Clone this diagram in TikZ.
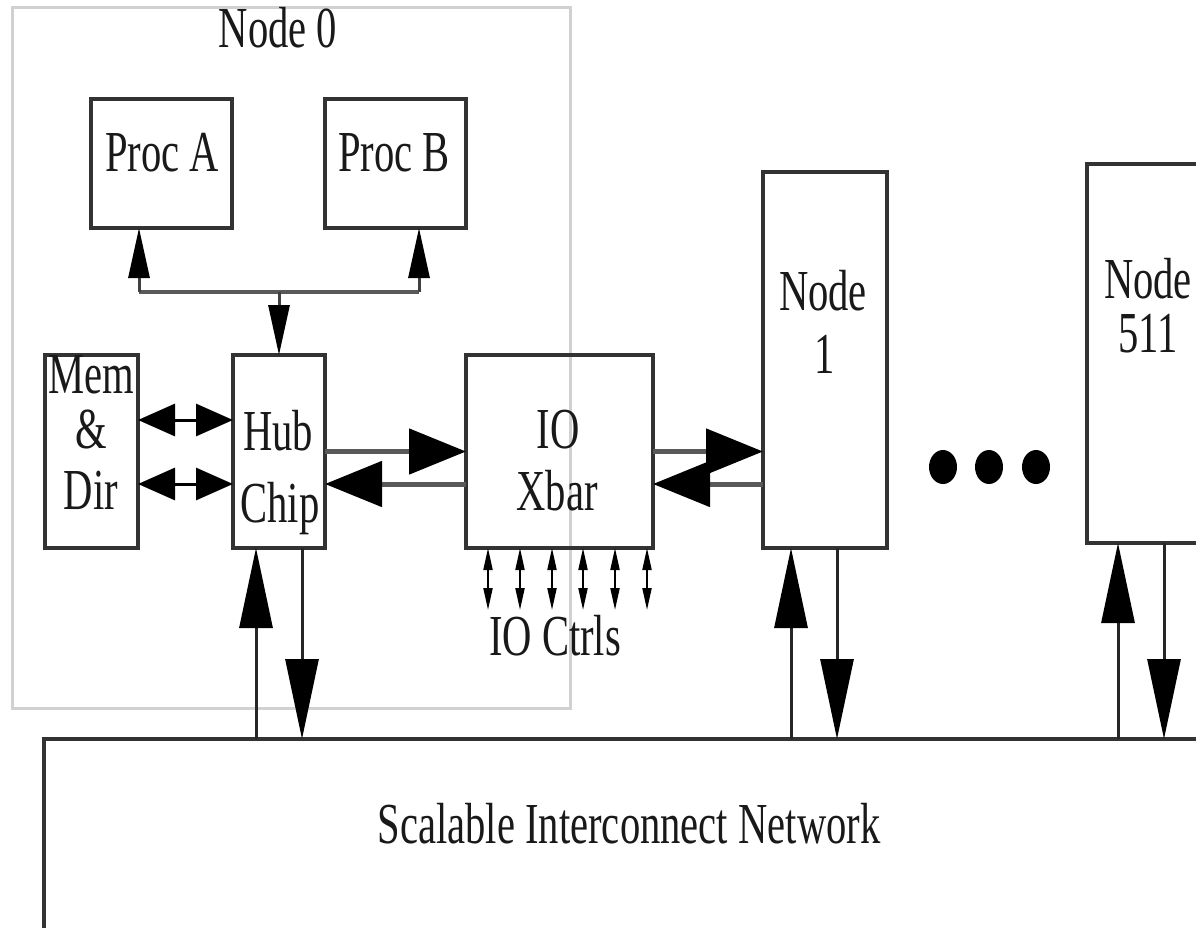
\documentclass[tikz,border=0pt]{standalone}
\usepackage{fontspec}
\setmainfont{Liberation Serif}[FakeStretch=0.7]
\usetikzlibrary{arrows.meta,calc}
\begin{document}
\begin{tikzpicture}[x=1pt,y=-1pt,
  box/.style={draw=black!80, line width=3.5pt, inner sep=0pt, outer sep=0pt},
  grp/.style={draw=black!18, line width=3pt, inner sep=0pt, outer sep=0pt},
  txt/.style={font=\fontsize{58}{60}\selectfont, anchor=base, inner sep=0pt, text=black!90},
  busline/.style={line width=4.5pt, draw=black!65},
  smallup/.style={-{Triangle[length=50pt,width=21pt,color=black]}, line width=3pt, draw=black!75},
  dbl/.style={{Triangle[length=37pt,width=32pt,color=black]}-{Triangle[length=37pt,width=32pt,color=black]}, line width=3pt, draw=black},
  bigtip/.style={-{Triangle[length=57pt,width=45pt,color=black]}, line width=5pt, draw=black!65},
  tinyarr/.style={{Triangle[length=22pt,width=9pt,color=black]}-{Triangle[length=22pt,width=9pt,color=black]}, line width=2pt, draw=black},
  netarr/.style={-{Triangle[length=80pt,width=33pt,color=black]}, line width=3pt, draw=black!85}
]
\clip (0,0) rectangle (1196,928);
\fill[white] (0,0) rectangle (1196,928);

% Node 0 group
\node[grp, minimum width=558pt, minimum height=700pt] (node0) at (291,358) {};
\node[txt] (t0) at (278,48) {Node 0};

% boxes
\node[box, minimum width=141pt, minimum height=129pt] (procA) at (161.5,163.5) {};
\node[box, minimum width=141pt, minimum height=129pt] (procB) at (395.5,163.5) {};
\node[box, minimum width=93pt, minimum height=193pt] (mem) at (91.5,451.5) {};
\node[box, minimum width=92pt, minimum height=193pt] (hub) at (279,451.5) {};
\node[box, minimum width=187pt, minimum height=193pt] (xbar) at (559.5,451.5) {};
\node[box, minimum width=124pt, minimum height=376pt] (node1) at (825,360) {};
\node[box, minimum width=128pt, minimum height=379pt] (node511) at (1151,353.5) {};
\node[box, line width=4pt, minimum width=1206pt, minimum height=261pt] (network) at (647,869.5) {};

% texts
\node[txt] (tpa) at (162,172) {Proc A};
\node[txt] (tpb) at (394,172) {Proc B};
\node[txt] (tm1) at (91,393) {Mem};
\node[txt] (tm2) at (91,448) {\&};
\node[txt] (tm3) at (91,509) {Dir};
\node[txt] (th1) at (278,450) {Hub};
\node[txt] (th2) at (280,522) {Chip};
\node[txt] (tx1) at (558,448) {IO};
\node[txt] (tx2) at (557,510) {Xbar};
\node[txt] (tio) at (555,655) {IO Ctrls};
\node[txt] (tn1a) at (823,310) {Node};
\node[txt] (tn1b) at (825,373) {1};
\node[txt] (tn5a) at (1148,298) {Node};
\node[txt] (tn5b) at (1148,352) {511};
\node[txt] (tnet) at (629,843) {Scalable Interconnect Network};

% processor bus
\coordinate (busL) at (139,292);
\coordinate (busR) at (419,292);
\coordinate (busM) at (279,292);
\draw[busline] (busL) -- (busR);
\draw[smallup] (busL) -- (busL |- procA.south);
\draw[smallup] (busR) -- (busR |- procB.south);
\draw[smallup] (busM) -- (hub.north);

% mem <-> hub
\draw[dbl] ($(mem.east)+(0,-31.5)$) -- ($(hub.west)+(0,-31.5)$);
\draw[dbl] ($(mem.east)+(0,32.5)$) -- ($(hub.west)+(0,32.5)$);

% hub <-> xbar
\draw[bigtip] (hub.east) -- (xbar.west);
\draw[bigtip] ($(xbar.west)+(0,32.5)$) -- ($(hub.east)+(0,32.5)$);

% xbar <-> node 1
\coordinate (xb2) at ($(xbar.east)+(0,32.5)$);
\draw[bigtip] (xbar.east) -- (xbar.east -| node1.west);
\draw[bigtip] (xb2 -| node1.west) -- (xb2);

% IO ctrls
\foreach \i/\x in {1/488,2/520,3/552,4/583,5/615,6/647}{
  \coordinate (io\i) at (\x,610);
  \draw[tinyarr] (io\i |- xbar.south) -- (io\i);
}

% network connections
\coordinate (hu) at (256,0);
\coordinate (hd) at (302,0);
\coordinate (n1u) at (791,0);
\coordinate (n1d) at (837,0);
\coordinate (n5u) at (1118,0);
\coordinate (n5d) at (1164,0);
\draw[netarr] (hu |- network.north) -- (hu |- hub.south);
\draw[netarr] (hd |- hub.south) -- (hd |- network.north);
\draw[netarr] (n1u |- network.north) -- (n1u |- node1.south);
\draw[netarr] (n1d |- node1.south) -- (n1d |- network.north);
\draw[netarr] (n5u |- network.north) -- (n5u |- node511.south);
\draw[netarr] (n5d |- node511.south) -- (n5d |- network.north);

% ellipsis dots
\fill (943,467) ellipse [x radius=14pt, y radius=17pt];
\fill (989,467) ellipse [x radius=14pt, y radius=17pt];
\fill (1036,467) ellipse [x radius=14pt, y radius=17pt];
\end{tikzpicture}
\end{document}
